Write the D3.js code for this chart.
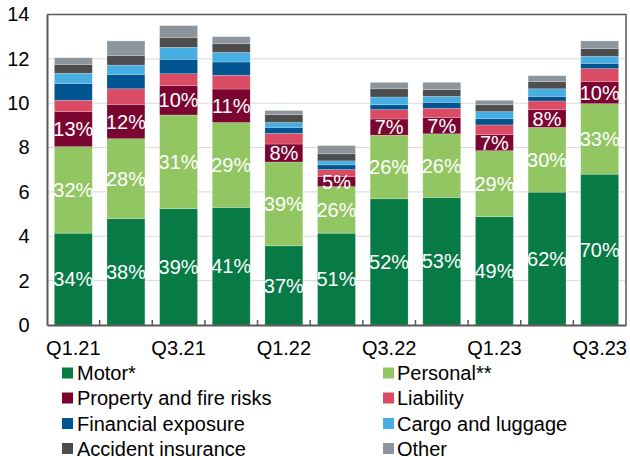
<!DOCTYPE html>
<html>
<head>
<meta charset="utf-8">
<script src="https://cdn.jsdelivr.net/npm/d3@7"></script>
<style>
  body { margin: 0; background: #fff; }
  svg { display: block; font-family: "Liberation Sans", Arial, sans-serif; }
</style>
</head>
<body>
<svg></svg>
<script>
// quarters on the x axis
const quarters = ["Q1.21", "Q2.21", "Q3.21", "Q4.21", "Q1.22", "Q2.22", "Q3.22", "Q4.22", "Q1.23", "Q2.23", "Q3.23"];
const shownTicks = ["Q1.21", "Q3.21", "Q1.22", "Q3.22", "Q1.23", "Q3.23"];

// segment values per series
const motor     = [4.14, 4.80, 5.25, 5.30, 3.57, 4.14, 5.69, 5.75, 4.89, 5.99, 6.80];
const personal  = [3.90, 3.60, 4.22, 3.83, 3.78, 2.10, 2.87, 2.87, 2.97, 2.92, 3.18];
const property  = [1.59, 1.55, 1.33, 1.51, 0.81, 0.46, 0.73, 0.74, 0.73, 0.81, 1.00];
const liability = [0.50, 0.70, 0.53, 0.62, 0.48, 0.31, 0.42, 0.41, 0.43, 0.38, 0.58];
const financial = [0.76, 0.65, 0.65, 0.60, 0.27, 0.21, 0.22, 0.27, 0.28, 0.21, 0.24];
const cargo     = [0.46, 0.42, 0.54, 0.43, 0.22, 0.18, 0.35, 0.27, 0.32, 0.34, 0.31];
const accident  = [0.40, 0.42, 0.45, 0.40, 0.36, 0.32, 0.37, 0.30, 0.31, 0.32, 0.35];
const other     = [0.30, 0.67, 0.53, 0.31, 0.18, 0.37, 0.29, 0.33, 0.20, 0.27, 0.35];

// percentage labels printed in the bars
const motorPct    = [34, 38, 39, 41, 37, 51, 52, 53, 49, 62, 70];
const personalPct = [32, 28, 31, 29, 39, 26, 26, 26, 29, 30, 33];
const propertyPct = [13, 12, 10, 11, 8, 5, 7, 7, 7, 8, 10];

const seriesNames = ["Motor*", "Personal**", "Property and fire risks", "Liability",
  "Financial exposure", "Cargo and luggage", "Accident insurance", "Other"];
const seriesColors = ["#077a45", "#92c663", "#7b0530", "#db4b63", "#00548f", "#47aee4", "#4d4d4d", "#8c959b"];
const yTicks = [0, 2, 4, 6, 8, 10, 12, 14];

const width = 630, height = 457;
const plotL = 47, plotR = 626, plotT = 14.5, plotB = 325;
const fontSize = 20;

const svg = d3.select("svg").attr("width", width).attr("height", height);

// build rows for the stack
const allSeries = [motor, personal, property, liability, financial, cargo, accident, other];
const rows = quarters.map((q, i) => {
  const r = { q: q };
  seriesNames.forEach((n, k) => { r[n] = allSeries[k][i]; });
  return r;
});
const stacked = d3.stack().keys(seriesNames)(rows);

const x = d3.scaleBand().domain(quarters).range([plotL, plotR]).paddingInner(0.28).paddingOuter(0.14);
const y = d3.scaleLinear().domain([0, 14]).range([plotB, plotT]);
const color = d3.scaleOrdinal().domain(seriesNames).range(seriesColors);

// gridlines
svg.append("g")
  .selectAll("line")
  .data(yTicks.slice(1, -1))
  .enter().append("line")
  .attr("x1", plotL).attr("x2", plotR)
  .attr("y1", d => y(d)).attr("y2", d => y(d))
  .attr("stroke", "#d9d9d9").attr("stroke-width", 1);

// bars
svg.append("g")
  .selectAll("g")
  .data(stacked)
  .enter().append("g")
  .attr("fill", d => color(d.key))
  .selectAll("rect")
  .data(d => d)
  .enter().append("rect")
  .attr("x", d => x(d.data.q))
  .attr("width", x.bandwidth())
  .attr("y", d => y(d[1]))
  .attr("height", d => y(d[0]) - y(d[1]))
  .attr("stroke", "#ffffff")
  .attr("stroke-opacity", 0.35)
  .attr("stroke-width", 0.6);

// percent labels
const pctSets = [motorPct, personalPct, propertyPct];
pctSets.forEach((pcts, k) => {
  svg.append("g")
    .selectAll("text")
    .data(stacked[k])
    .enter().append("text")
    .attr("x", d => x(d.data.q) + x.bandwidth() / 2)
    .attr("y", d => (y(d[0]) + y(d[1])) / 2)
    .attr("dy", "0.36em")
    .attr("text-anchor", "middle")
    .attr("fill", "#fff")
    .attr("font-size", fontSize)
    .text((d, i) => pcts[i] + "%");
});

// frame (top and right)
svg.append("path")
  .attr("d", `M${plotL},${plotT}H${plotR}V${plotB}`)
  .attr("fill", "none")
  .attr("stroke", "#595959")
  .attr("stroke-width", 1.5);

// y axis
const yAxis = svg.append("g")
  .attr("transform", `translate(${plotL},0)`)
  .call(d3.axisLeft(y).tickValues(yTicks).tickSize(0).tickPadding(17.5));
yAxis.select(".domain").attr("stroke", "#595959").attr("stroke-width", 2);
yAxis.selectAll("text").attr("font-size", fontSize).attr("fill", "#000").attr("font-family", null);

// x axis with ticks at band boundaries
const xAxis = svg.append("g")
  .attr("transform", `translate(0,${plotB})`)
  .call(d3.axisBottom(x).tickSize(0).tickPadding(16)
    .tickFormat(d => shownTicks.includes(d) ? d : ""));
xAxis.select(".domain").attr("stroke", "#595959").attr("stroke-width", 2);
xAxis.selectAll("text").attr("font-size", fontSize).attr("fill", "#000").attr("font-family", null);

const step = x.step();
svg.append("g")
  .selectAll("line")
  .data(d3.range(1, quarters.length))
  .enter().append("line")
  .attr("x1", i => plotL + i * step).attr("x2", i => plotL + i * step)
  .attr("y1", plotB).attr("y2", plotB - 5)
  .attr("stroke", "#595959").attr("stroke-width", 1.5);

// legend
const legend = svg.append("g").attr("font-size", fontSize);
const legX = [62, 383];
const legY = [373, 398, 423.5, 448.5];
const items = legend.selectAll("g")
  .data(seriesNames)
  .enter().append("g")
  .attr("transform", (d, i) => `translate(${legX[i % 2]},${legY[Math.floor(i / 2)]})`);
items.append("rect")
  .attr("x", 0).attr("y", -5.5)
  .attr("width", 11).attr("height", 11)
  .attr("fill", d => color(d));
items.append("text")
  .attr("x", (d, i) => i % 2 ? 14 : 15)
  .attr("dy", "0.36em")
  .attr("fill", "#000")
  .text(d => d);
</script>
</body>
</html>
